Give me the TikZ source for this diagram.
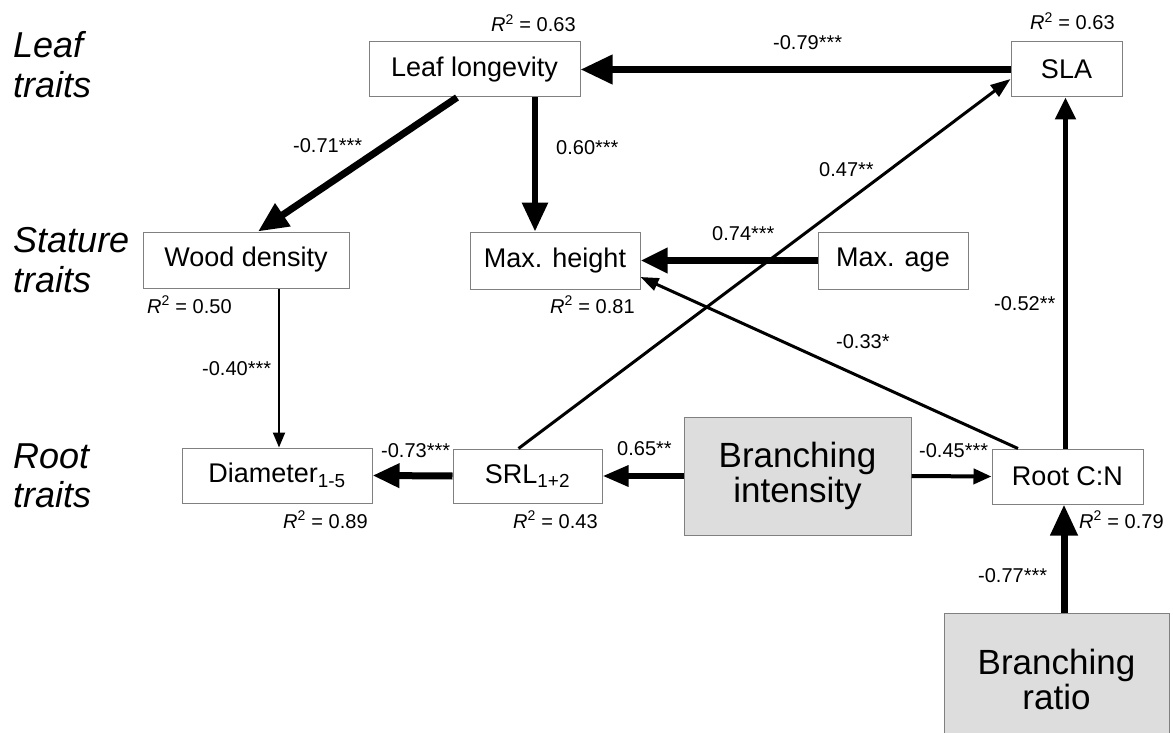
\documentclass[tikz,border=0pt]{standalone}
\usepackage{fontspec}
\setmainfont{Liberation Sans}
\usetikzlibrary{arrows.meta}
\definecolor{boxgray}{RGB}{128,128,128}
\definecolor{latentfill}{RGB}{221,221,221}

\begin{document}
\begin{tikzpicture}[x=1pt,y=-1pt,
  box/.style={draw=boxgray, line width=1pt, fill=white, inner sep=0pt,
    font=\fontsize{27}{30}\selectfont},
  latent/.style={box, fill=latentfill, align=center,
    font=\fontsize{35}{35}\selectfont},
  coef/.style={inner sep=0pt, anchor=base west, font=\fontsize{20}{22}\selectfont},
  rsq/.style={inner sep=0pt, anchor=base west, font=\fontsize{20}{24}\selectfont},
  rowlab/.style={inner sep=0pt, anchor=base west, font=\fontsize{36}{40}\selectfont\itshape},
  link/.style n args={3}{draw=black, line width=#1pt,
    -{Triangle[length=#2pt, width=#3pt]}}
]
\useasboundingbox (0,0) rectangle (1173,733);
\clip (0,0) rectangle (1173,733);

% trait group labels
\node[rowlab] (leafA) at (13,58) {Leaf};
\node[rowlab] (leafB) at (13,98) {traits};
\node[rowlab] (statA) at (13,252) {Stature};
\node[rowlab] (statB) at (13,292) {traits};
\node[rowlab] (rootA) at (13,468) {Root};
\node[rowlab] (rootB) at (13,507) {traits};

% observed traits
\node[box, minimum width=211pt, minimum height=55pt] (LL) at (474.5,69.5) {Leaf longevity};
\node[box, minimum width=111pt, minimum height=55pt] (SLA) at (1066.5,69.5) {SLA};
\node[box, minimum width=206pt, minimum height=56pt] (WD) at (246,260) {Wood density};
\node[box, minimum width=170pt, minimum height=57pt] (MH) at (555,260.5) {Max. height};
\node[box, minimum width=150pt, minimum height=57pt] (MA) at (893,260.5) {Max. age};
\node[box, minimum width=190pt, minimum height=55pt] (Diam) at (277,475.5) {Diameter\textsubscript{1-5}};
\node[box, minimum width=149pt, minimum height=54pt] (SRL) at (527.5,476) {SRL\textsubscript{1+2}};
\node[box, minimum width=151pt, minimum height=55pt] (RCN) at (1067.5,476.5) {Root C:N};

% branching architecture
\node[latent, minimum width=227pt, minimum height=118pt] (BI) at (797.5,476) {Branching\\intensity};
\node[latent, minimum width=225pt, minimum height=132pt] (BR) at (1056.5,679) {Branching\\ratio};

% explained variance
\node[rsq] (r2LL) at (491,32) {\textit{R}\textsuperscript{2} = 0.63};
\node[rsq] (r2SLA) at (1030,30) {\textit{R}\textsuperscript{2} = 0.63};
\node[rsq] (r2WD) at (147,313) {\textit{R}\textsuperscript{2} = 0.50};
\node[rsq] (r2MH) at (550,313) {\textit{R}\textsuperscript{2} = 0.81};
\node[rsq] (r2D) at (283,528) {\textit{R}\textsuperscript{2} = 0.89};
\node[rsq] (r2SRL) at (513,528) {\textit{R}\textsuperscript{2} = 0.43};
\node[rsq] (r2RCN) at (1079,528) {\textit{R}\textsuperscript{2} = 0.79};

% paths
\draw[link={7}{32}{28}] (SLA.west) -- (LL.east);
\draw[link={7}{30}{26}] ([xshift=-17.5pt]LL.south) -- ([xshift=12pt]WD.north);
\draw[link={6}{29}{25}] ([xshift=60.5pt]LL.south) -- ([xshift=60.5pt]LL.south |- MH.north);
\draw[link={7}{27}{24}] (MA.west) -- (MH.east);
\draw[link={3}{18}{13}] ([xshift=-49.5pt]RCN.north) -- ([yshift=-16.5pt]MH.east);
\draw[link={3}{20}{14}] ([xshift=-9pt]SRL.north) -- ([yshift=-9.5pt]SLA.west);
\draw[link={2}{15}{12}] ([xshift=33pt]WD.south) -- ([xshift=33pt]WD.south |- Diam.north);
\draw[link={7}{27}{23}] (SRL.west) -- (Diam.east);
\draw[link={6}{26}{20}] (BI.west) -- (SRL.east);
\draw[link={4}{18}{15}] (BI.east) -- (RCN.west);
\draw[link={5}{22}{20}] ([xshift=-2pt]RCN.north) -- ([xshift=-2pt]RCN.north |- SLA.south);
\draw[link={7}{31}{26}] ([xshift=7.5pt]BR.north) -- ([xshift=7.5pt]BR.north |- RCN.south);

% path coefficients
\node[coef] (c1) at (773,50) {-0.79***};
\node[coef] (c2) at (293,153) {-0.71***};
\node[coef] (c3) at (556,154) {0.60***};
\node[coef] (c4) at (819,177) {0.47**};
\node[coef] (c5) at (712,240) {0.74***};
\node[coef] (c6) at (994,310) {-0.52**};
\node[coef] (c7) at (202,375) {-0.40***};
\node[coef] (c8) at (836,348) {-0.33*};
\node[coef] (c9) at (381,457) {-0.73***};
\node[coef] (c10) at (617,455) {0.65**};
\node[coef] (c11) at (919,457) {-0.45***};
\node[coef] (c12) at (978,582) {-0.77***};
\end{tikzpicture}
\end{document}
